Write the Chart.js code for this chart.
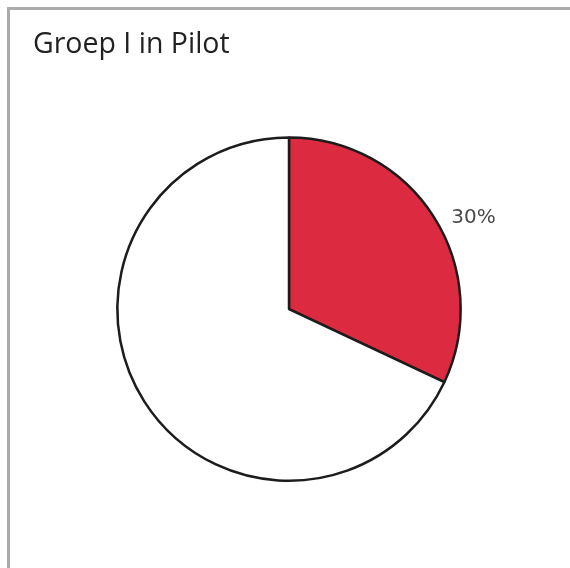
<!DOCTYPE html>
<html>
<head>
<meta charset="utf-8">
<script src="https://cdn.jsdelivr.net/npm/chart.js@4"></script>
<style>
  body { margin: 0; background: #fff; }
  #frame {
    position: absolute; left: 7px; top: 7px; width: 600px; height: 600px;
    border-left: 3px solid #ababab; border-top: 3px solid #ababab;
  }
  #chart { position: absolute; left: 0; top: 0; }
</style>
</head>
<body>
<div id="frame"></div>
<canvas id="chart" width="570" height="568"></canvas>
<script>
// Data
const categories = ["Groep I", "Overig"];
const shares = [32, 68];
const sliceLabels = ["30%", ""];
const sliceColors = ["#dc2b40", "#ffffff"];
const titleText = "Groep I in Pilot";

// Draw the percentage text just outside its slice
const sliceLabelPlugin = {
    id: "sliceLabels",
    afterDatasetsDraw(chart) {
        const ctx = chart.ctx;
        const arcs = chart.getDatasetMeta(0).data;
        ctx.save();
        ctx.font = "20px 'DejaVu Sans'";
        ctx.fillStyle = "#4a4a4a";
        ctx.textAlign = "center";
        ctx.textBaseline = "middle";
        arcs.forEach((arc, i) => {
            if (!sliceLabels[i]) return;
            const p = arc.getProps(["x", "y", "startAngle", "endAngle", "outerRadius"], true);
            const mid = (p.startAngle + p.endAngle) / 2 + 6 * Math.PI / 180;
            const r = p.outerRadius * 1.2;
            ctx.fillText(sliceLabels[i], p.x + Math.cos(mid) * r, p.y + Math.sin(mid) * r);
        });
        ctx.restore();
    }
};

new Chart(document.getElementById("chart"), {
    type: "pie",
    data: {
        labels: categories,
        datasets: [{
            data: shares,
            backgroundColor: sliceColors,
            borderColor: "#1c1c1c",
            borderWidth: 2.5,
            hoverBorderWidth: 2.5
        }]
    },
    options: {
        responsive: false,
        animation: false,
        devicePixelRatio: 1,
        layout: { padding: { left: 33, right: 25, top: 0, bottom: 86 } },
        plugins: {
            legend: { display: false },
            tooltip: { enabled: false },
            title: {
                display: true,
                text: titleText,
                align: "start",
                color: "#222",
                font: { family: "'Open Sans'", size: 28.5, weight: "normal" },
                padding: { top: 28, bottom: 74 }
            }
        }
    },
    plugins: [sliceLabelPlugin]
});
</script>
</body>
</html>
